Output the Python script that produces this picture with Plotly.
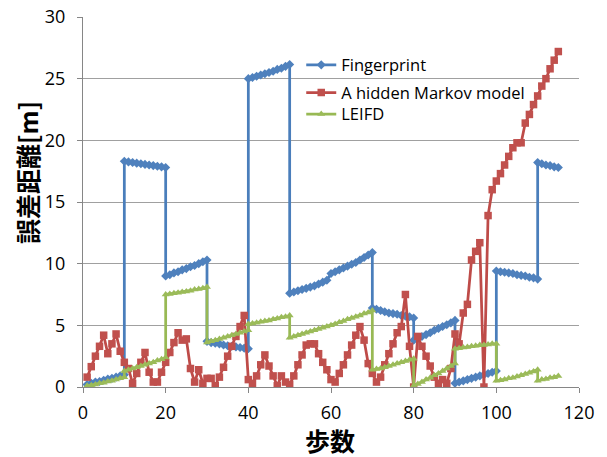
import plotly.graph_objects as go

# ---------------- data ----------------
# Fingerprint: segments (start step, values)
fp_starts = [1, 10, 20, 30, 40, 50, 70, 80, 90, 100, 110]
fp_values = [
    [0.2, 0.3, 0.4, 0.45, 0.55, 0.65, 0.7, 0.8, 0.9, 1.0],
    [18.3, 18.25, 18.2, 18.15, 18.1, 18.05, 18.0, 17.95, 17.9, 17.85, 17.8],
    [9.0, 9.1, 9.25, 9.35, 9.5, 9.6, 9.75, 9.85, 10.0, 10.15, 10.3],
    [3.7, 3.6, 3.55, 3.5, 3.4, 3.35, 3.3, 3.25, 3.2, 3.15, 3.1],
    [25.0, 25.1, 25.2, 25.3, 25.4, 25.5, 25.6, 25.75, 25.85, 26.0, 26.15],
    [7.6, 7.7, 7.8, 7.9, 8.0, 8.1, 8.2, 8.35, 8.5, 8.65, 9.2, 9.35, 9.5, 9.65,
     9.8, 9.95, 10.1, 10.3, 10.5, 10.7, 10.9],
    [6.4, 6.3, 6.2, 6.1, 6.0, 5.95, 5.9, 5.8, 5.75, 5.7, 5.6],
    [3.8, 3.95, 4.1, 4.25, 4.4, 4.6, 4.75, 4.9, 5.05, 5.2, 5.4],
    [0.3, 0.4, 0.5, 0.6, 0.7, 0.8, 0.9, 1.0, 1.1, 1.2, 1.3],
    [9.4, 9.35, 9.3, 9.25, 9.2, 9.1, 9.05, 9.0, 8.9, 8.85, 8.75],
    [18.2, 18.1, 18.0, 17.95, 17.85, 17.8],
]

# LEIFD: segments (start step, values)
le_starts = [1, 10, 20, 30, 40, 50, 70, 80, 90, 100, 110]
le_values = [
    [0.1, 0.15, 0.2, 0.3, 0.35, 0.45, 0.5, 0.6, 0.7, 0.8],
    [1.3, 1.4, 1.5, 1.6, 1.7, 1.8, 1.9, 2.0, 2.15, 2.25, 2.4],
    [7.5, 7.55, 7.6, 7.65, 7.7, 7.75, 7.8, 7.9, 7.95, 8.0, 8.1],
    [3.6, 3.7, 3.8, 3.9, 4.0, 4.1, 4.2, 4.3, 4.4, 4.5, 4.6],
    [5.1, 5.15, 5.2, 5.3, 5.35, 5.4, 5.5, 5.55, 5.65, 5.7, 5.8],
    [4.0, 4.1, 4.2, 4.3, 4.4, 4.5, 4.6, 4.7, 4.8, 4.9, 5.0, 5.1, 5.25, 5.35,
     5.5, 5.6, 5.7, 5.8, 5.95, 6.05, 6.2],
    [1.4, 1.45, 1.5, 1.6, 1.7, 1.8, 1.9, 2.0, 2.1, 2.2, 2.3],
    [0.1, 0.25, 0.4, 0.6, 0.75, 0.95, 1.1, 1.3, 1.5, 1.7, 1.9],
    [3.1, 3.15, 3.2, 3.25, 3.3, 3.35, 3.4, 3.4, 3.45, 3.5, 3.5],
    [0.5, 0.55, 0.6, 0.7, 0.75, 0.85, 0.95, 1.05, 1.15, 1.25, 1.4],
    [0.5, 0.6, 0.65, 0.75, 0.8, 0.9],
]

# A hidden Markov model: one value per step, steps 1..115
hmm_start = 1
hmm_values = [
    0.8, 1.65, 2.5, 3.3, 4.2, 2.7, 3.5, 4.3, 2.9, 2.0,
    1.5, 0.3, 1.1, 2.0, 2.8, 1.2, 0.4, 0.4, 1.2, 2.0,
    2.8, 3.6, 4.4, 3.8, 3.9, 1.5, 0.4, 1.4, 0.3, 0.7,
    0.7, 0.1, 0.8, 1.6, 2.5, 3.3, 4.1, 4.9, 5.8, 0.6,
    0.3, 0.9, 1.8, 2.6, 1.7, 0.9, 0.1, 0.9, 0.4, 0.2,
    0.9, 1.8, 2.6, 3.4, 3.5, 3.5, 2.7, 2.0, 1.4, 0.6,
    0.4, 1.1, 1.8, 2.6, 3.4, 4.2, 4.9, 3.8, 1.9, 1.1,
    0.4, 0.8, 1.8, 2.7, 3.5, 4.4, 4.9, 7.5, 3.3, 0.0,
    4.1, 3.3, 2.5, 1.7, 0.8, 0.3, 0.6, 0.3, 1.5, 4.3,
    3.5, 6.0, 6.7, 10.3, 11.0, 11.7, 0.0, 13.9, 16.0, 16.7,
    17.3, 18.0, 18.7, 19.4, 19.8, 19.8, 21.4, 22.1, 22.9, 23.6,
    24.4, 25.0, 25.8, 26.5, 27.2,
]

series_names = ["Fingerprint", "A hidden Markov model", "LEIFD"]
x_ticks = [0, 20, 40, 60, 80, 100, 120]
y_ticks = [0, 5, 10, 15, 20, 25, 30]
x_title = "歩数"
y_title = "誤差距離[m]"


def flatten(starts, values):
    xs, ys = [], []
    for s, vals in zip(starts, values):
        for i, v in enumerate(vals):
            xs.append(s + i)
            ys.append(v)
    return xs, ys


fp_x, fp_y = flatten(fp_starts, fp_values)
le_x, le_y = flatten(le_starts, le_values)
hmm_x = [hmm_start + i for i in range(len(hmm_values))]

fig = go.Figure()
fig.add_trace(go.Scatter(
    x=fp_x, y=fp_y, mode="lines+markers", name=series_names[0],
    line=dict(color="#4A7EBB", width=2.75),
    marker=dict(symbol="diamond", size=7, color="#4F81BD"),
    legend="legend", showlegend=True,
))
fig.add_trace(go.Scatter(
    x=hmm_x, y=hmm_values, mode="lines+markers", name=series_names[1],
    line=dict(color="#BE4B48", width=2.75),
    marker=dict(symbol="square", size=7.5, color="#C0504D"),
    legend="legend2", showlegend=True,
))
fig.add_trace(go.Scatter(
    x=le_x, y=le_y, mode="lines+markers", name=series_names[2],
    line=dict(color="#98B954", width=2.75),
    marker=dict(symbol="triangle-up", size=7, color="#9BBB59"),
    legend="legend3", showlegend=True,
))

leg_common = dict(
    xanchor="left", yanchor="middle", bgcolor="rgba(0,0,0,0)",
    font=dict(family="Open Sans, Noto Sans, sans-serif", size=16.5, color="#000000"),
)
x_leg = 0.44
cjk_font = dict(family="Noto Sans CJK JP", size=25, color="#000000", weight="bold")
fig.update_layout(
    width=607, height=457,
    margin=dict(l=83, r=28, t=17, b=70),
    paper_bgcolor="white", plot_bgcolor="white",
    showlegend=True,
    font=dict(family="Open Sans, Noto Sans, sans-serif", size=18, color="#000000"),
    legend=dict(x=x_leg, y=0.870, **leg_common),
    legend2=dict(x=x_leg, y=0.795, **leg_common),
    legend3=dict(x=x_leg, y=0.737, **leg_common),
    xaxis=dict(
        range=[0, 120], tickvals=x_ticks, showgrid=False, zeroline=False,
        showline=True, linecolor="#868686", linewidth=1,
        ticks="outside", ticklen=5, tickcolor="#868686",
        tickfont=dict(size=18), automargin=False, ticklabelstandoff=4,
    ),
    yaxis=dict(
        range=[0, 30], tickvals=y_ticks, showgrid=True, gridcolor="#A0A0A0",
        gridwidth=1, zeroline=False,
        showline=True, linecolor="#868686", linewidth=1,
        ticks="outside", ticklen=5, tickcolor="#868686",
        tickfont=dict(size=18), automargin=False, ticklabelstandoff=8,
    ),
    annotations=[
        dict(text=x_title, xref="paper", yref="paper", x=0.498, y=-0.143,
             xanchor="center", yanchor="middle", showarrow=False, font=cjk_font),
        dict(text=y_title, xref="paper", yref="paper", x=-0.113, y=0.581,
             xanchor="center", yanchor="middle", showarrow=False, textangle=-90,
             font=cjk_font),
    ],
)

fig.write_html("out.html", config={"displayModeBar": False},
               post_script="document.body.style.margin='0';document.body.style.padding='0';")
